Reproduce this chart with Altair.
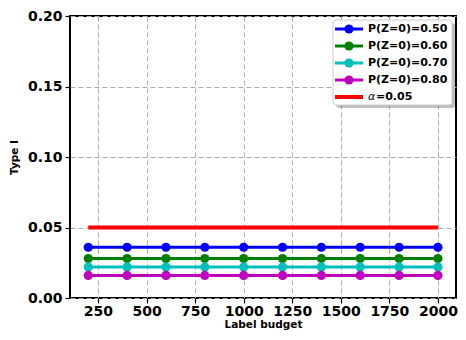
import altair as alt
import pandas as pd

# ---- data ----
budgets = [200, 400, 600, 800, 1000, 1200, 1400, 1600, 1800, 2000]
series_labels = ["P(Z=0)=0.50", "P(Z=0)=0.60", "P(Z=0)=0.70", "P(Z=0)=0.80"]
series_values = [0.036, 0.028, 0.022, 0.016]
series_colors = ["#0000ff", "#008000", "#00bfbf", "#bf00bf"]
alpha_value = 0.05
alpha_range = [200, 2000]
alpha_symbol = "α"
alpha_text = "=0.05"
alpha_color = "#ff0000"
x_ticks = [250, 500, 750, 1000, 1250, 1500, 1750, 2000]
y_ticks = [0.0, 0.05, 0.10, 0.15, 0.20]

FONT = "DejaVu Sans"
W, H = 386, 282

rows = []
for lab, val in zip(series_labels, series_values):
    for b in budgets:
        rows.append({"budget": b, "value": val, "series": lab})
df = pd.DataFrame(rows)
alpha_df = pd.DataFrame({"budget": alpha_range, "value": [alpha_value] * len(alpha_range)})

xs = alt.Scale(domain=[106, 2093], nice=False, zero=False)
ys = alt.Scale(domain=[0, 0.2], nice=False)
color_scale = alt.Scale(domain=series_labels, range=series_colors)

x_enc = alt.X("budget:Q", scale=xs,
              axis=alt.Axis(values=x_ticks, title="Label budget", format="d"))
y_enc = alt.Y("value:Q", scale=ys,
              axis=alt.Axis(values=y_ticks, title="Type I", format=".2f"))

lines = alt.Chart(df).mark_line(strokeWidth=3).encode(
    x=x_enc, y=y_enc,
    color=alt.Color("series:N", scale=color_scale, legend=None),
    detail="series:N",
)
points = alt.Chart(df).mark_circle(size=85, opacity=1).encode(
    x=x_enc, y=y_enc,
    color=alt.Color("series:N", scale=color_scale, legend=None),
)
alpha_line = alt.Chart(alpha_df).mark_line(strokeWidth=4, color=alpha_color).encode(
    x=x_enc, y=y_enc,
)
main = alt.layer(lines, points, alpha_line)

# ---- manual legend (pixel positions inside the plot area) ----
L = 263          # legend box left edge in plot pixels
T = 4            # legend box top edge
leg_rows = []
for i, (lab, col) in enumerate(zip(series_labels, series_colors)):
    leg_rows.append({"label": lab, "color": col, "ly": T + 9 + 17 * i})
leg_df = pd.DataFrame(leg_rows)
alpha_leg_df = pd.DataFrame({"sym": [alpha_symbol], "txt": [alpha_text],
                             "color": [alpha_color], "ly": [T + 9 + 17 * 4]})

box_dummy = pd.DataFrame({"a": [0]})
shadow = alt.Chart(box_dummy).mark_rect(color="#808080", opacity=0.5, cornerRadius=3).encode(
    x=alt.value(L + 3), x2=alt.value(L + 122), y=alt.value(T + 3), y2=alt.value(T + 88))
box = alt.Chart(box_dummy).mark_rect(fill="white", stroke="#cccccc", strokeWidth=1,
                                     cornerRadius=3).encode(
    x=alt.value(L), x2=alt.value(L + 119), y=alt.value(T), y2=alt.value(T + 85))

ly = alt.Y("ly:Q", scale=None, axis=None)
leg_lines = alt.Chart(leg_df).mark_rule(strokeWidth=3).encode(
    x=alt.value(L + 2), x2=alt.value(L + 30), y=ly,
    color=alt.Color("color:N", scale=None))
leg_points = alt.Chart(leg_df).mark_circle(size=85, opacity=1).encode(
    x=alt.value(L + 16), y=ly, color=alt.Color("color:N", scale=None))
leg_text = alt.Chart(leg_df).mark_text(align="left", baseline="middle", font=FONT,
                                       fontWeight="bold", fontSize=11, color="black").encode(
    x=alt.value(L + 35), y=ly, text="label:N")
alpha_leg_line = alt.Chart(alpha_leg_df).mark_rule(strokeWidth=4).encode(
    x=alt.value(L + 2), x2=alt.value(L + 30), y=ly, color=alt.Color("color:N", scale=None))
alpha_leg_sym = alt.Chart(alpha_leg_df).mark_text(align="left", baseline="middle", font=FONT,
                                                  fontStyle="italic", fontSize=11,
                                                  color="black").encode(
    x=alt.value(L + 35), y=ly, text="sym:N")
alpha_leg_txt = alt.Chart(alpha_leg_df).mark_text(align="left", baseline="middle", font=FONT,
                                                  fontWeight="bold", fontSize=11,
                                                  color="black").encode(
    x=alt.value(L + 43), y=ly, text="txt:N")

legend = alt.layer(shadow, box, leg_lines, leg_points, leg_text,
                   alpha_leg_line, alpha_leg_sym, alpha_leg_txt)

chart = alt.layer(main, legend).resolve_scale(y="independent", x="independent").properties(
    width=W, height=H,
    autosize=alt.AutoSizeParams(type="none"),
    padding={"left": 62, "top": 8, "right": 2, "bottom": 34},
).configure_view(
    stroke="black", strokeWidth=2,
).configure_axis(
    labelFont=FONT, labelFontWeight="bold", labelFontSize=14, labelColor="black",
    titleFont=FONT, titleFontWeight="bold", titleFontSize=10.5, titleColor="black",
    tickColor="black", tickSize=5, tickWidth=1.2,
    domain=False,
    grid=True, gridColor="#aaaaaa", gridDash=[5, 3], gridWidth=1,
).configure_axisX(
    labelPadding=1, titlePadding=1,
).configure_axisY(
    labelPadding=3, titlePadding=8,
)

chart.save("out.html", embed_options={"renderer": "svg", "actions": False})
